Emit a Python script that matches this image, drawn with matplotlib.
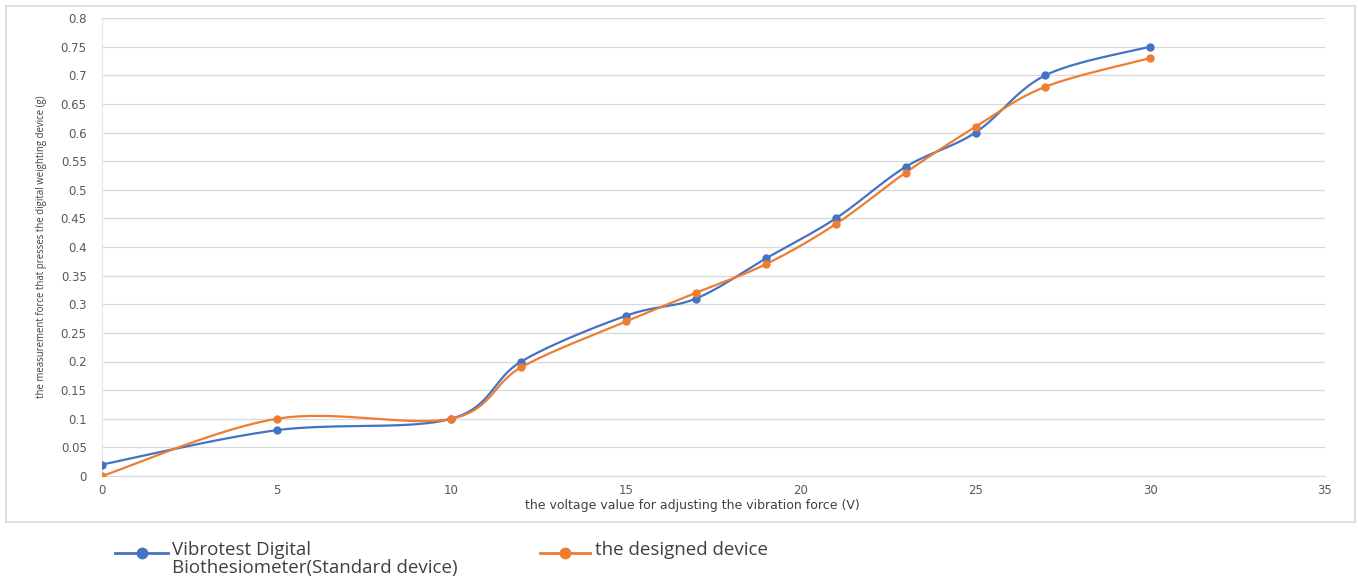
import numpy as np
import matplotlib
matplotlib.use("Agg")
import matplotlib.pyplot as plt
from matplotlib.lines import Line2D
from matplotlib.patches import Rectangle

voltage = [0, 5, 10, 12, 15, 17, 19, 21, 23, 25, 27, 30]
standard = [0.02, 0.08, 0.10, 0.20, 0.28, 0.31, 0.38, 0.45, 0.54, 0.60, 0.70, 0.75]
designed = [0.00, 0.10, 0.10, 0.19, 0.27, 0.32, 0.37, 0.44, 0.53, 0.61, 0.68, 0.73]
series_names = ["Vibrotest Digital\nBiothesiometer(Standard device)", "the designed device"]
colors = ["#4472C4", "#ED7D31"]

x_ticks = [0, 5, 10, 15, 20, 25, 30, 35]
y_ticks = [0, 0.05, 0.1, 0.15, 0.2, 0.25, 0.3, 0.35, 0.4, 0.45, 0.5, 0.55, 0.6, 0.65, 0.7, 0.75, 0.8]
y_labels = ["0", "0.05", "0.1", "0.15", "0.2", "0.25", "0.3", "0.35", "0.4", "0.45", "0.5", "0.55",
            "0.6", "0.65", "0.7", "0.75", "0.8"]


def smooth(xs, ys, n=40):
    P = np.column_stack([xs, ys]).astype(float)
    out = []
    for i in range(len(P) - 1):
        p0 = P[i - 1] if i > 0 else P[i]
        p1 = P[i]
        p2 = P[i + 1]
        p3 = P[i + 2] if i + 2 < len(P) else P[i + 1]
        c1 = p1 + (p2 - p0) / 6.0
        c2 = p2 - (p3 - p1) / 6.0
        t = np.linspace(0, 1, n)[:, None]
        seg = ((1 - t) ** 3) * p1 + 3 * ((1 - t) ** 2) * t * c1 + 3 * (1 - t) * t ** 2 * c2 + t ** 3 * p2
        out.append(seg if i == 0 else seg[1:])
    arr = np.vstack(out)
    return arr[:, 0], arr[:, 1]


plt.rcParams['font.family'] = ['Open Sans', 'DejaVu Sans']
fig = plt.figure(figsize=(13.58, 5.86), dpi=100)
ax = fig.add_axes([102 / 1358, 1 - 476 / 586, (1325 - 102) / 1358, (476 - 18) / 586])

for ys, c in zip([standard, designed], colors):
    sx, sy = smooth(voltage, ys)
    ax.plot(sx, sy, color=c, lw=1.6, zorder=3)
    ax.plot(voltage, ys, 'o', color=c, ms=5, zorder=4)

ax.set_xlim(0, 35)
ax.set_ylim(0, 0.8)
ax.set_xticks(x_ticks)
ax.set_yticks(y_ticks)
ax.set_yticklabels(y_labels)
for lab in ax.get_xticklabels() + ax.get_yticklabels():
    lab.set_family("DejaVu Sans")
ax.tick_params(length=0, labelsize=8.5, colors="#595959")
ax.tick_params(axis='y', pad=11)
ax.tick_params(axis='x', pad=6)
ax.grid(axis='y', color="#D9D9D9", lw=0.9)
ax.set_axisbelow(True)
for s in ["top", "right"]:
    ax.spines[s].set_visible(False)
ax.spines["bottom"].set_color("#D9D9D9")
ax.spines["left"].set_color("#E6E6E6")
ax.set_xlabel("the voltage value for adjusting the vibration force (V)", fontsize=9, color="#404040",
              family="DejaVu Sans")
ax.xaxis.set_label_coords((692 - 102) / 1223, -(505 - 476) / 458)
ax.xaxis.label.set_va('center')
ax.set_ylabel("the measurement force that presses the digital weighting device (g)", fontsize=6.9,
              color="#404040")
ax.yaxis.set_label_coords(-(102 - 42) / 1223, 0.5)
ax.yaxis.label.set_va('center')

# outer chart border
fig.patches.append(Rectangle((6 / 1358, 1 - 522 / 586), (1355 - 6) / 1358, (522 - 6) / 586,
                             transform=fig.transFigure, fill=False, ec="#D9D9D9", lw=1.2))

# legend
legend_items = [(115, 168, 172, 553, 0), (540, 590, 595, 553, 1)]
for x0, x1, tx, ly, i in legend_items:
    yf = 1 - ly / 586
    fig.add_artist(Line2D([x0 / 1358, x1 / 1358], [yf, yf], color=colors[i], lw=2,
                          transform=fig.transFigure))
    fig.add_artist(Line2D([(x0 + x1) / 2 / 1358], [yf], marker='o', color=colors[i], ms=7.5,
                          transform=fig.transFigure))
    fig.text(tx / 1358, 1 - (ly - 12) / 586, series_names[i], fontsize=13.5, color="#404040",
             va='top', ha='left', linespacing=1.0, transform=fig.transFigure)

fig.savefig("out.png", dpi=100)
